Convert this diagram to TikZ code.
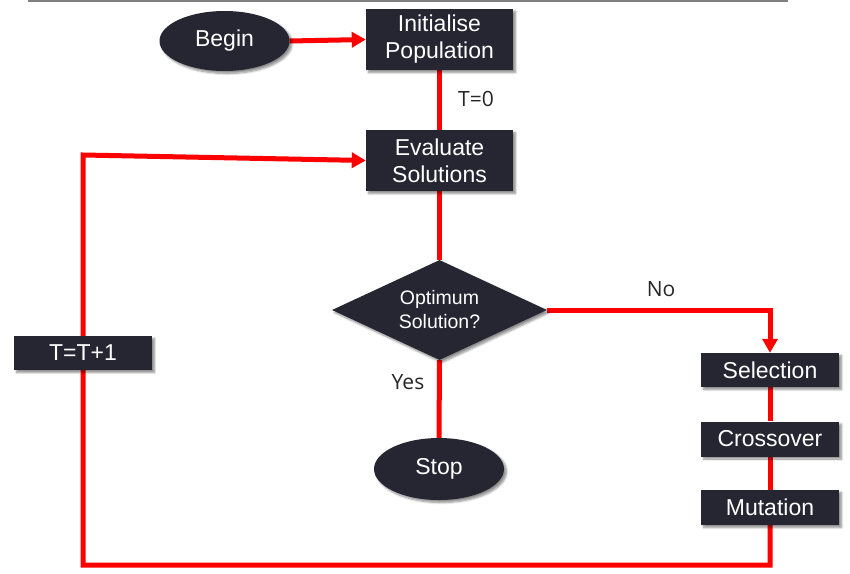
\documentclass[tikz,border=0pt]{standalone}
\usepackage{fontspec}
\setmainfont{Liberation Sans}
\newfontfamily\labelfont{Open Sans}
\usetikzlibrary{shapes.geometric,arrows.meta,shadows.blur,backgrounds}
\definecolor{boxfill}{RGB}{38,38,51}
\definecolor{linered}{RGB}{255,0,0}
\tikzset{
  x=1pt,y=-1pt,
  shade/.style={blur shadow={shadow xshift=2.5pt,shadow yshift=-2.5pt,shadow blur steps=6,shadow opacity=45}},
  boxnode/.style={rectangle,fill=boxfill,text=white,inner sep=0pt,align=center,font=\fontsize{23}{27}\selectfont,shade},
  ovalnode/.style={ellipse,fill=boxfill,text=white,inner sep=0pt,font=\fontsize{23}{27}\selectfont,minimum width=130pt,minimum height=60pt,shade},
  decnode/.style={diamond,fill=boxfill,text=white,inner sep=0pt,align=center,aspect=2.15,minimum width=215pt,minimum height=100pt,font=\fontsize{19.5}{24}\selectfont,shade},
  redline/.style={draw=linered,line width=5pt,line join=miter},
  redarrow/.style={redline,-{Triangle[length=14pt,width=15pt]}},
  lbl/.style={font=\labelfont\fontsize{21}{24}\selectfont,text=black!85,inner sep=0pt},
}
\begin{document}
\begin{tikzpicture}
\useasboundingbox (0,0) rectangle (850,573);
\draw[gray,line width=1.5pt] (28,1) -- (788,1);
% nodes
\node[ovalnode] (begin) at (224.5,41) {Begin};
\node[boxnode,minimum width=147pt,minimum height=61pt] (init) at (439.5,39.5) {Initialise\\Population};
\node[boxnode,minimum width=147pt,minimum height=61pt] (eval) at (439.5,160.5) {Evaluate\\Solutions};
\node[decnode] (opt) at (439.5,310) {Optimum\\Solution?};
\node[ovalnode,minimum height=62pt] (stop) at (439,469) {Stop};
\node[boxnode,minimum width=138pt,minimum height=34pt] (sel) at (770,370) {Selection};
\node[boxnode,minimum width=138pt,minimum height=35pt] (cross) at (770,439) {Crossover};
\node[boxnode,minimum width=138pt,minimum height=35pt] (mut) at (770,507.5) {Mutation};
\node[boxnode,minimum width=138pt,minimum height=34pt] (inc) at (83,353) {T=T+1};
\node[lbl] (t0) at (476,99) {T=0};
\node[lbl] (yes) at (408,382) {Yes};
\node[lbl] (no) at (661,289) {No};
\coordinate (nocorner) at (770,310);
\coordinate (br) at (770,565);
\coordinate (bl) at (83,565);
\coordinate (tl) at (83,155);
% connectors
\begin{pgfonlayer}{background}
\draw[redarrow] (begin.east) -- (init.west);
\draw[redline] (init.south) -- (eval.north);
\draw[redline] (eval.south) -- (opt.north);
\draw[redline] (opt.south) -- (stop.north);
\draw[redarrow] (opt.east) -- (nocorner) -- (sel.north);
\draw[redline] (sel.south) -- (cross.north);
\draw[redline] (cross.south) -- (mut.north);
\draw[redarrow] (mut.south) -- (br) -- (bl) -- (tl) -- (eval.west);
\end{pgfonlayer}
\end{tikzpicture}
\end{document}
